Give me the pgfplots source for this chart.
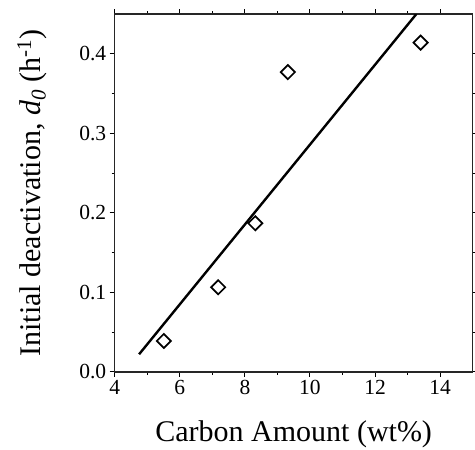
\documentclass[border=0pt]{standalone}
\usepackage{pgfplots}
\pgfplotsset{compat=1.18}
\usepackage{fontspec}
\setmainfont{Liberation Serif}
\begin{document}
\begin{tikzpicture}
\useasboundingbox[fill=white] (0,0) rectangle (475pt,450pt);
\begin{axis}[
  at={(114.7pt,78pt)}, anchor=south west,
  scale only axis, width=358pt, height=358pt,
  xmin=4, xmax=15, ymin=0, ymax=0.45,
  xtick={4,6,8,10,12,14}, minor xtick={5,7,9,11,13},
  ytick={0,0.1,0.2,0.3,0.4}, minor ytick={0.05,0.15,0.25,0.35},
  tick align=outside,
  major tick length=5pt, minor tick length=3pt,
  axis line style={line width=1.4pt, black!85},
  every tick/.style={black, line width=1pt},
  /pgf/number format/assume math mode=true,
  ticklabel style={font=\fontsize{21.5}{25}\selectfont},
  yticklabel style={/pgf/number format/.cd, fixed, fixed zerofill, precision=1},
  xticklabel style={/pgf/number format/.cd, fixed, precision=0},
  label style={font=\fontsize{30}{36}\selectfont},
  xlabel={Carbon Amount (wt\%)},
  ylabel={Initial deactivation, \textit{d}\textsubscript{\textit{0}} (h\textsuperscript{-1})},
  xlabel style={at={(axis description cs:0.5,-0.193)}, anchor=base},
  ylabel style={at={(axis description cs:-0.208,0.5)}, anchor=base, rotate=0},
  clip=true,
]
\addplot[black, line width=2.4pt] coordinates {(4.75,0.0223) (13.27,0.45)};
\addplot[only marks, mark=square, mark size=5pt, mark options={rotate=45, line width=1.7pt, black, fill=white}] coordinates {
  (5.51,0.039) (7.18,0.1065) (8.32,0.187) (9.32,0.377) (13.40,0.414)
};
\end{axis}
\end{tikzpicture}
\end{document}
